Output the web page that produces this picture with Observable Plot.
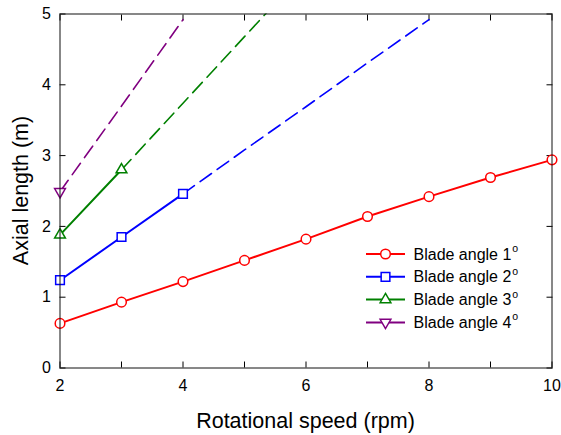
<!DOCTYPE html>
<html>
<head>
<meta charset="utf-8">
<script src="https://cdn.jsdelivr.net/npm/d3@7"></script>
<script src="https://cdn.jsdelivr.net/npm/@observablehq/plot@0.6"></script>
<style>
  html, body { margin: 0; padding: 0; background: #fff; }
</style>
</head>
<body>
<div id="chart"></div>
<script>
// Data
const speed1 = [2, 3, 4, 5, 6, 7, 8, 9, 10];
const angle1 = [0.63, 0.93, 1.22, 1.52, 1.82, 2.14, 2.42, 2.69, 2.94];

const speed2 = [2, 3, 4];
const angle2 = [1.24, 1.85, 2.46];
const speed2Ext = [4, 5, 6, 7, 8];
const angle2Ext = [2.46, 3.08, 3.69, 4.31, 4.92];

const speed3 = [2, 3];
const angle3 = [1.88, 2.80];
const speed3Ext = [3, 4, 5, 6];
const angle3Ext = [2.80, 3.74, 4.68, 5.62];

const speed4 = [2];
const angle4 = [2.49];
const speed4Ext = [2, 3, 4];
const angle4Ext = [2.49, 3.70, 4.92];

const xTicksMajor = [2, 4, 6, 8, 10];
const xTicksAll = [2, 3, 4, 5, 6, 7, 8, 9, 10];
const yTicks = [0, 1, 2, 3, 4, 5];

const seriesNames = ["Blade angle 1", "Blade angle 2", "Blade angle 3", "Blade angle 4"];
const colors = ["#ff0000", "#0000ff", "#008000", "#800080"];

const pts = (xs, ys) => xs.map((x, i) => ({x, y: ys[i]}));

const markerOpts = [
  {symbol: "circle", r: 4.8, rotate: 0},
  {symbol: "square", r: 4.9, rotate: 0},
  {symbol: "triangle", r: 4.0, rotate: 0},
  {symbol: "triangle", r: 4.0, rotate: 180}
];

const solid = [pts(speed1, angle1), pts(speed2, angle2), pts(speed3, angle3), pts(speed4, angle4)];
const dashed = [null, pts(speed2Ext, angle2Ext), pts(speed3Ext, angle3Ext), pts(speed4Ext, angle4Ext)];

const marks = [];
dashed.forEach((d, i) => {
  if (d) marks.push(Plot.line(d, {x: "x", y: "y", stroke: colors[i], strokeWidth: 1.6, strokeDasharray: "14,7", clip: true}));
});
solid.forEach((d, i) => {
  if (d.length > 1) marks.push(Plot.line(d, {x: "x", y: "y", stroke: colors[i], strokeWidth: 2}));
});
solid.forEach((d, i) => {
  marks.push(Plot.dot(d, {x: "x", y: "y", stroke: colors[i], fill: "white", strokeWidth: 1.5,
    symbol: markerOpts[i].symbol, r: markerOpts[i].r, rotate: markerOpts[i].rotate}));
});

const fmt = d3.format("d");

const chart = Plot.plot({
  width: 561,
  height: 435,
  marginLeft: 59.5,
  marginRight: 9.5,
  marginTop: 13.5,
  marginBottom: 67.5,
  style: {fontFamily: "'Liberation Sans', Arial, sans-serif", fontSize: "16px", background: "white", color: "black"},
  x: {domain: [2, 10]},
  y: {domain: [0, 5]},
  marks: [
    Plot.axisX({ticks: xTicksAll, tickSize: -6, tickFormat: () => "", label: null, anchor: "bottom"}),
    Plot.axisX({ticks: xTicksAll, tickSize: -6, tickFormat: () => "", label: null, anchor: "top"}),
    Plot.axisY({ticks: yTicks, tickSize: -6, tickFormat: () => "", label: null, anchor: "left"}),
    Plot.axisY({ticks: yTicks, tickSize: -6, tickFormat: () => "", label: null, anchor: "right"}),
    Plot.axisX({ticks: xTicksMajor, tickSize: 0, tickPadding: 12, fontSize: 16, tickFormat: fmt, label: null, anchor: "bottom"}),
    Plot.axisY({ticks: yTicks, tickSize: 0, tickPadding: 9, fontSize: 16, tickFormat: fmt, label: null, anchor: "left"}),
    ...marks,
    Plot.frame({stroke: "#111", strokeWidth: 1})
  ]
});

document.getElementById("chart").appendChild(chart);

// Axis titles and legend (layout)
const svg = d3.select(chart);
const font = "'Liberation Sans', Arial, sans-serif";
svg.append("text")
  .attr("x", 305.5).attr("y", 427.5)
  .attr("text-anchor", "middle")
  .attr("font-family", font).attr("font-size", 21.5).attr("fill", "black")
  .text("Rotational speed (rpm)");
svg.append("text")
  .attr("transform", "translate(27.5,190.5) rotate(-90)")
  .attr("text-anchor", "middle")
  .attr("font-family", font).attr("font-size", 21.5).attr("fill", "black")
  .text("Axial length (m)");

const legend = svg.append("g").attr("font-family", font).attr("font-size", 16).attr("text-anchor", "start");
seriesNames.forEach((name, i) => {
  const cy = 254 + i * 22.8;
  const g = legend.append("g");
  g.append("line").attr("x1", 366).attr("x2", 405).attr("y1", cy).attr("y2", cy)
    .attr("stroke", colors[i]).attr("stroke-width", 2);
  const m = markerOpts[i];
  const sym = m.symbol === "circle" ? d3.symbolCircle : m.symbol === "square" ? d3.symbolSquare : d3.symbolTriangle;
  g.append("path").attr("d", d3.symbol(sym, Math.PI * m.r * m.r)())
    .attr("transform", `translate(385.5,${cy}) rotate(${m.rotate})`)
    .attr("fill", "white").attr("stroke", colors[i]).attr("stroke-width", 1.5);
  const t = g.append("text").attr("x", 413.5).attr("y", cy + 5.5).attr("fill", "black").attr("text-anchor", "start");
  t.append("tspan").text(name);
  t.append("tspan").attr("font-size", 10.5).attr("dy", -7.5).attr("dx", 1).text("o");
});
</script>
</body>
</html>
